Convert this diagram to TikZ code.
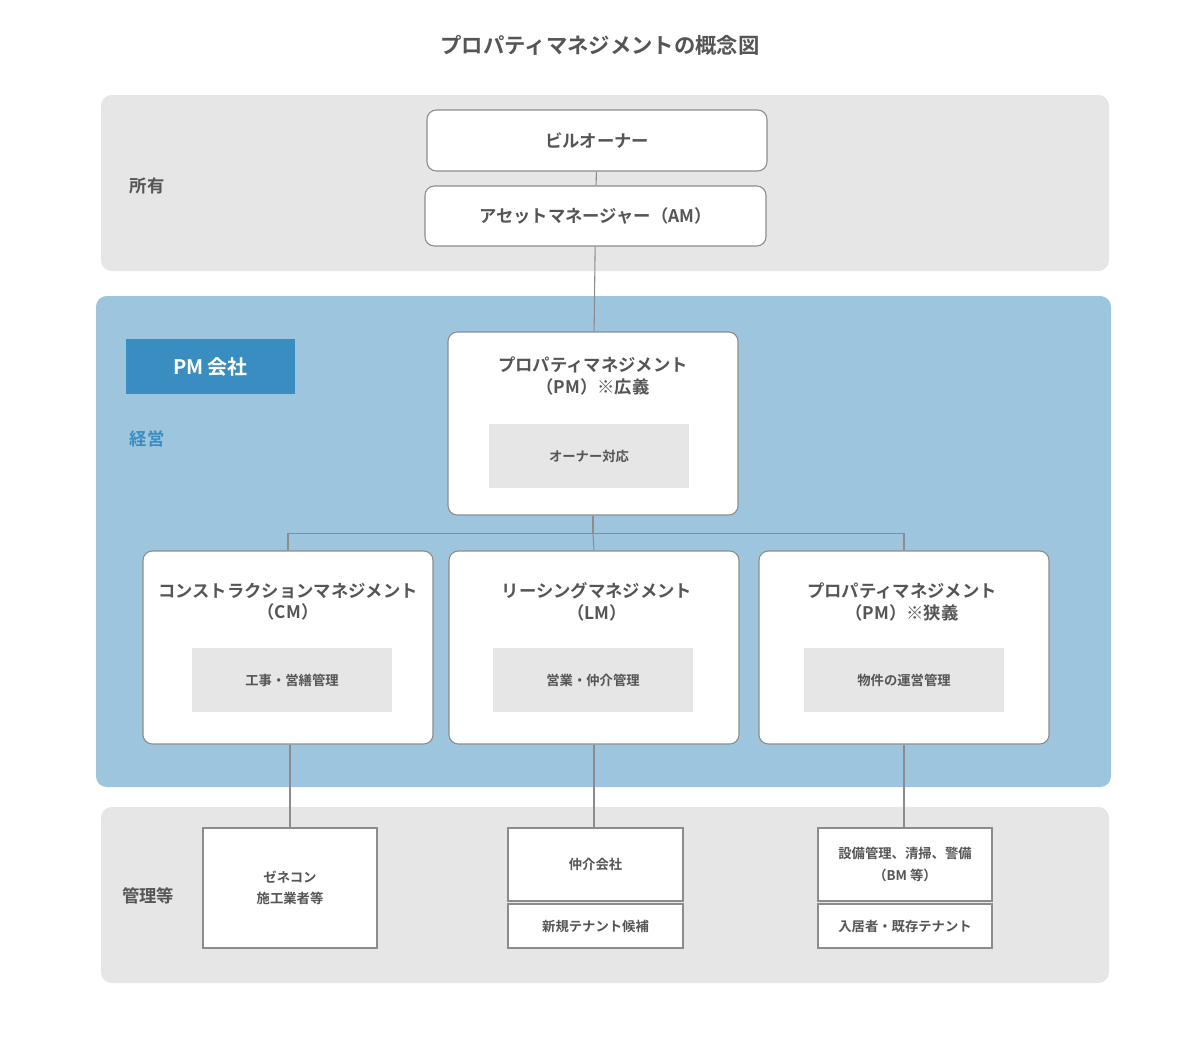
\documentclass[tikz,border=0pt]{standalone}
\usepackage{fontspec}
\setmainfont{Noto Sans CJK JP}[BoldFont={Noto Sans CJK JP Bold}]
\definecolor{txt}{HTML}{555555}
\definecolor{band}{HTML}{E6E6E6}
\definecolor{pmblue}{HTML}{9DC6DE}
\definecolor{deepblue}{HTML}{3A8DC0}
\definecolor{edge}{HTML}{8C8C8C}
\begin{document}
\begin{tikzpicture}[x=0.75pt, y=-0.75pt, font=\bfseries, text=txt,
  role/.style = {draw=edge, fill=white, rounded corners=7pt, line width=0.8pt},
  task/.style = {fill=band, minimum width=150pt, minimum height=48pt, font=\bfseries\fontsize{10}{12}\selectfont},
  party/.style = {draw=edge, fill=white, line width=0.8pt, minimum width=130.5pt, align=center, font=\bfseries\fontsize{10}{16}\selectfont},
  head/.style = {font=\bfseries\fontsize{13}{16}\selectfont},
  link/.style = {draw=edge, line width=0.8pt}]
\useasboundingbox (0,0) rectangle (1200,1040);
% bands
\fill[band, rounded corners=8pt] (101,95) rectangle (1109,271);
\fill[pmblue, rounded corners=8pt] (96,296) rectangle (1111,787);
\fill[band, rounded corners=8pt] (101,807) rectangle (1109,983);
\node[font=\bfseries\fontsize{16}{18}\selectfont] (title) at (600,45) {プロパティマネジメントの概念図};
\node[head] (own) at (147,186) {所有};
\node[head, text=deepblue] (mgmt) at (147,439) {経営};
\node[head] (etc) at (148,896) {管理等};
\node[fill=deepblue, text=white, minimum width=126.75pt, minimum height=41.25pt, font=\bfseries\fontsize{15}{18}\selectfont] (pmco) at (210.5,366.5) {PM 会社};
% owners
\node[role, minimum width=255pt, minimum height=45.75pt, head] (owner) at (597,140.5) {ビルオーナー};
\node[role, minimum width=255.75pt, minimum height=45pt, head] (am) at (595.5,216) {アセットマネージャー（AM）};
\draw[link] (owner) -- (am);
% PM broad
\node[role, minimum width=217.5pt, minimum height=137.25pt] (pm) at (593,423.5) {};
\node[head, align=center] (pmt) at (593,376) {プロパティマネジメント\\（PM）※広義};
\node[task] (pmtask) at (589,456) {オーナー対応};
\draw[link] (am) -- (pm);
% three managements
\node[role, minimum width=217.5pt, minimum height=144.75pt] (cm) at (288,647.5) {};
\node[role, minimum width=217.5pt, minimum height=144.75pt] (lm) at (594,647.5) {};
\node[role, minimum width=217.5pt, minimum height=144.75pt] (pmn) at (904,647.5) {};
\node[head, align=center] (cmt) at (288,602) {コンストラクションマネジメント\\（CM）};
\node[head, align=center] (lmt) at (597,602) {リーシングマネジメント\\（LM）};
\node[head, align=center] (pmnt) at (902,602) {プロパティマネジメント\\（PM）※狭義};
\node[task] (cmtask) at (292,680) {工事・営繕管理};
\node[task] (lmtask) at (593,680) {営業・仲介管理};
\node[task] (pmntask) at (904,680) {物件の運営管理};
\draw[link] (pm.south) -- ++(0,18) coordinate (split);
\draw[link] (cm.north) |- (split) -| (pmn.north);
\draw[link] (split) -- (lm.north);
% parties
\node[party, minimum height=90pt] (gen) at (290,888) {ゼネコン\\施工業者等};
\node[party, minimum width=131.25pt, minimum height=54.75pt] (agent) at (595.5,864.5) {仲介会社};
\node[party, minimum width=131.25pt, minimum height=33pt] (cand) at (595.5,926) {新規テナント候補};
\node[party, minimum height=54.75pt] (bm) at (905,864.5) {設備管理、清掃、警備\\（BM 等）};
\node[party, minimum height=33pt] (res) at (905,926) {入居者・既存テナント};
\draw[link] (cm.south -| gen.north) -- (gen.north);
\draw[link] (lm.south) -- (agent.north -| lm.south);
\draw[link] (pmn.south) -- (pmn.south |- bm.north);
\end{tikzpicture}
\end{document}
